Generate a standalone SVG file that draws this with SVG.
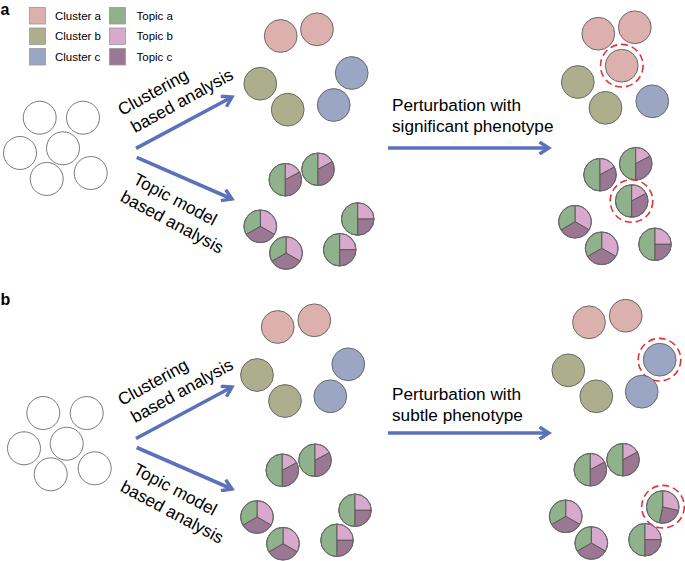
<svg xmlns="http://www.w3.org/2000/svg" xmlns:xlink="http://www.w3.org/1999/xlink" width="685" height="561" viewBox="0 0 685 561">
<style>
text{font-family:"Liberation Sans",Arial,sans-serif;fill:#000}
.lab{font-size:16px;font-weight:bold}
.leg{font-size:11.5px}
.big{font-size:17.2px}
.open{fill:#fff;stroke:#7a7a7a;stroke-width:1}
.ca{fill:#dcb0ac;stroke:#6a6a6a;stroke-width:1}
.cb{fill:#adae8c;stroke:#6a6a6a;stroke-width:1}
.cc{fill:#9aa6c3;stroke:#6a6a6a;stroke-width:1}
.ta{fill:#8fb28c}
.tb{fill:#d8a9cd}
.tc{fill:#9c7793}
.seg{stroke:#555;stroke-width:0.9}
.rim{fill:none;stroke:#6a6a6a;stroke-width:1}
.sq{stroke:#9a9a9a;stroke-width:0.8}
.arr{fill:none;stroke:#5a72bb;stroke-width:3.6;marker-end:url(#ah)}
.red{fill:none;stroke:#e0303a;stroke-width:1.6;stroke-dasharray:7 4}
</style>
<defs>
<marker id="ah" viewBox="0 0 14 14" refX="11" refY="7" markerWidth="14" markerHeight="14" markerUnits="userSpaceOnUse" orient="auto">
<path d="M1.5,1 L11,7 L1.5,13" fill="none" stroke="#5a72bb" stroke-width="3.4"/>
</marker>
<g id="pieA">
<path class="ta seg" d="M0,0 L0,-16.3 A16.3,16.3 0 0,0 0,16.3 Z"/>
<path class="tb seg" d="M0,0 L0,-16.3 A16.3,16.3 0 0,1 14.39,-7.65 Z"/>
<path class="tc seg" d="M0,0 L14.39,-7.65 A16.3,16.3 0 0,1 0,16.3 Z"/>
<circle class="rim" r="16.3"/>
</g>
<g id="pieB">
<path class="tb seg" d="M0,0 L0,-16.3 A16.3,16.3 0 0,1 14.12,8.15 Z"/>
<path class="tc seg" d="M0,0 L14.12,8.15 A16.3,16.3 0 0,1 -14.12,8.15 Z"/>
<path class="ta seg" d="M0,0 L-14.12,8.15 A16.3,16.3 0 0,1 0,-16.3 Z"/>
<circle class="rim" r="16.3"/>
</g>
<g id="pieC">
<path class="ta seg" d="M0,0 L0,-16.3 A16.3,16.3 0 0,0 0,16.3 Z"/>
<path class="tb seg" d="M0,0 L0,-16.3 A16.3,16.3 0 0,1 16.3,0 Z"/>
<path class="tc seg" d="M0,0 L16.3,0 A16.3,16.3 0 0,1 0,16.3 Z"/>
<circle class="rim" r="16.3"/>
</g>
<g id="pieD">
<path class="tb seg" d="M0,0 L0,-16.3 A16.3,16.3 0 0,1 15.88,3.67 Z"/>
<path class="tc seg" d="M0,0 L15.88,3.67 A16.3,16.3 0 0,1 -3.39,15.94 Z"/>
<path class="ta seg" d="M0,0 L-3.39,15.94 A16.3,16.3 0 0,1 0,-16.3 Z"/>
<circle class="rim" r="16.3"/>
</g>
</defs>
<rect width="685" height="561" fill="#fff"/>

<g id="legend">
<text class="lab" x="0.5" y="14.5">a</text>
<rect class="ca sq" x="29.5" y="7.5" width="16" height="16.5"/>
<rect class="cb sq" x="29.5" y="28" width="16" height="16.5"/>
<rect class="cc sq" x="29.5" y="48.5" width="16" height="16.5"/>
<rect class="ta sq" x="109.5" y="7.5" width="16" height="16.5"/>
<rect class="tb sq" x="109.5" y="28" width="16" height="16.5"/>
<rect class="tc sq" x="109.5" y="48.5" width="16" height="16.5"/>
<text class="leg" x="55" y="19.5">Cluster a</text>
<text class="leg" x="55" y="40">Cluster b</text>
<text class="leg" x="55" y="61">Cluster c</text>
<text class="leg" x="136.5" y="19.5">Topic a</text>
<text class="leg" x="136.5" y="40">Topic b</text>
<text class="leg" x="136.5" y="61">Topic c</text>
</g>

<g id="panel-a-cells">
<circle class="open" cx="39.7" cy="117.7" r="16.5"/>
<circle class="open" cx="83" cy="117.7" r="16.5"/>
<circle class="open" cx="20" cy="153" r="16.5"/>
<circle class="open" cx="63" cy="148.3" r="16.5"/>
<circle class="open" cx="46.7" cy="179" r="16.5"/>
<circle class="open" cx="90.7" cy="173" r="16.5"/>
</g>

<g id="panel-a-clusters">
<circle class="ca" cx="280.7" cy="36" r="16.4"/>
<circle class="ca" cx="317" cy="29.3" r="16.4"/>
<circle class="cb" cx="260.3" cy="83.7" r="16.4"/>
<circle class="cb" cx="287.7" cy="109.7" r="16.4"/>
<circle class="cc" cx="351.7" cy="73" r="16.4"/>
<circle class="cc" cx="333.7" cy="105" r="16.4"/>
</g>

<g id="panel-a-topics">
<use xlink:href="#pieA" x="285.3" y="179.7"/>
<use xlink:href="#pieA" x="318" y="169.3"/>
<use xlink:href="#pieB" x="260.3" y="226.3"/>
<use xlink:href="#pieB" x="286" y="253"/>
<use xlink:href="#pieC" x="357.7" y="219"/>
<use xlink:href="#pieC" x="339.7" y="249.7"/>
</g>

<g id="panel-a-clusters-perturbed">
<circle class="ca" cx="598.3" cy="33.7" r="16.4"/>
<circle class="ca" cx="634.8" cy="27.3" r="16.4"/>
<circle class="ca" cx="621.7" cy="65.7" r="16.4"/>
<circle class="red" cx="621.8" cy="65.7" r="21.3"/>
<circle class="cb" cx="577.8" cy="82" r="16.4"/>
<circle class="cb" cx="605.5" cy="107.8" r="16.4"/>
<circle class="cc" cx="652.3" cy="101.3" r="16.4"/>
</g>

<g id="panel-a-topics-perturbed">
<use xlink:href="#pieA" x="600" y="174.7"/>
<use xlink:href="#pieA" x="635.7" y="163.7"/>
<use xlink:href="#pieA" x="631.7" y="201"/>
<circle class="red" cx="631.5" cy="201" r="21.3"/>
<use xlink:href="#pieB" x="575" y="221.7"/>
<use xlink:href="#pieB" x="601.7" y="248.3"/>
<use xlink:href="#pieC" x="655" y="244.3"/>
</g>

<g id="panel-a-labels">
<text class="big" transform="translate(122,116) rotate(-29)"><tspan x="0" y="0">Clustering</tspan><tspan x="3" y="21.5">based analysis</tspan></text>
<text class="big" transform="translate(132,183) rotate(28)"><tspan x="0" y="0">Topic model</tspan><tspan x="-3" y="21.5">based analysis</tspan></text>
<text class="big" x="392" y="111">Perturbation with</text>
<text class="big" x="392" y="132">significant phenotype</text>
</g>

<g id="connectors">
<path class="arr" d="M136,148.3 L232,97"/>
<path class="arr" d="M136.7,157.3 L232,199"/>
<path class="arr" d="M388,148 L549,148"/>
<path class="arr" d="M136,438.5 L232,387"/>
<path class="arr" d="M136.7,447.5 L232,489"/>
<path class="arr" d="M388,433 L549,433"/>
</g>

<g id="panel-b-label">
<text class="lab" x="0.5" y="305">b</text>
</g>

<g id="panel-b-cells">
<circle class="open" cx="43.3" cy="413" r="16.5"/>
<circle class="open" cx="86.7" cy="413" r="16.5"/>
<circle class="open" cx="24" cy="448.3" r="16.5"/>
<circle class="open" cx="66.7" cy="443.7" r="16.5"/>
<circle class="open" cx="50.7" cy="474.3" r="16.5"/>
<circle class="open" cx="94.7" cy="468.3" r="16.5"/>
</g>

<g id="panel-b-clusters">
<circle class="ca" cx="277.7" cy="327" r="16.4"/>
<circle class="ca" cx="314.3" cy="320.3" r="16.4"/>
<circle class="cb" cx="257" cy="375" r="16.4"/>
<circle class="cb" cx="285" cy="401" r="16.4"/>
<circle class="cc" cx="348.3" cy="364.3" r="16.4"/>
<circle class="cc" cx="330.3" cy="396.3" r="16.4"/>
</g>

<g id="panel-b-topics">
<use xlink:href="#pieA" x="282.3" y="470.3"/>
<use xlink:href="#pieA" x="315" y="460.3"/>
<use xlink:href="#pieB" x="257" y="517"/>
<use xlink:href="#pieB" x="283" y="543.7"/>
<use xlink:href="#pieC" x="355" y="510.3"/>
<use xlink:href="#pieC" x="337" y="540.3"/>
</g>

<g id="panel-b-clusters-perturbed">
<circle class="ca" cx="589" cy="322.3" r="16.4"/>
<circle class="ca" cx="625.7" cy="315.7" r="16.4"/>
<circle class="cb" cx="568.3" cy="370.3" r="16.4"/>
<circle class="cb" cx="596.3" cy="396.3" r="16.4"/>
<circle class="cc" cx="659.7" cy="359.7" r="16.4"/>
<circle class="red" cx="659.5" cy="359.7" r="21.3"/>
<circle class="cc" cx="641.7" cy="391.7" r="16.4"/>
</g>

<g id="panel-b-topics-perturbed">
<use xlink:href="#pieA" x="590.3" y="469.7"/>
<use xlink:href="#pieA" x="623" y="459.7"/>
<use xlink:href="#pieD" x="662.7" y="507"/>
<circle class="red" cx="663" cy="506.7" r="21.3"/>
<use xlink:href="#pieB" x="565.7" y="516.3"/>
<use xlink:href="#pieB" x="591.3" y="543"/>
<use xlink:href="#pieC" x="645" y="539.7"/>
</g>

<g id="panel-b-labels">
<text class="big" transform="translate(122,406) rotate(-29)"><tspan x="0" y="0">Clustering</tspan><tspan x="3" y="21.5">based analysis</tspan></text>
<text class="big" transform="translate(132,473) rotate(28)"><tspan x="0" y="0">Topic model</tspan><tspan x="-3" y="21.5">based analysis</tspan></text>
<text class="big" x="392" y="400">Perturbation with</text>
<text class="big" x="392" y="421">subtle phenotype</text>
</g>
</svg>
